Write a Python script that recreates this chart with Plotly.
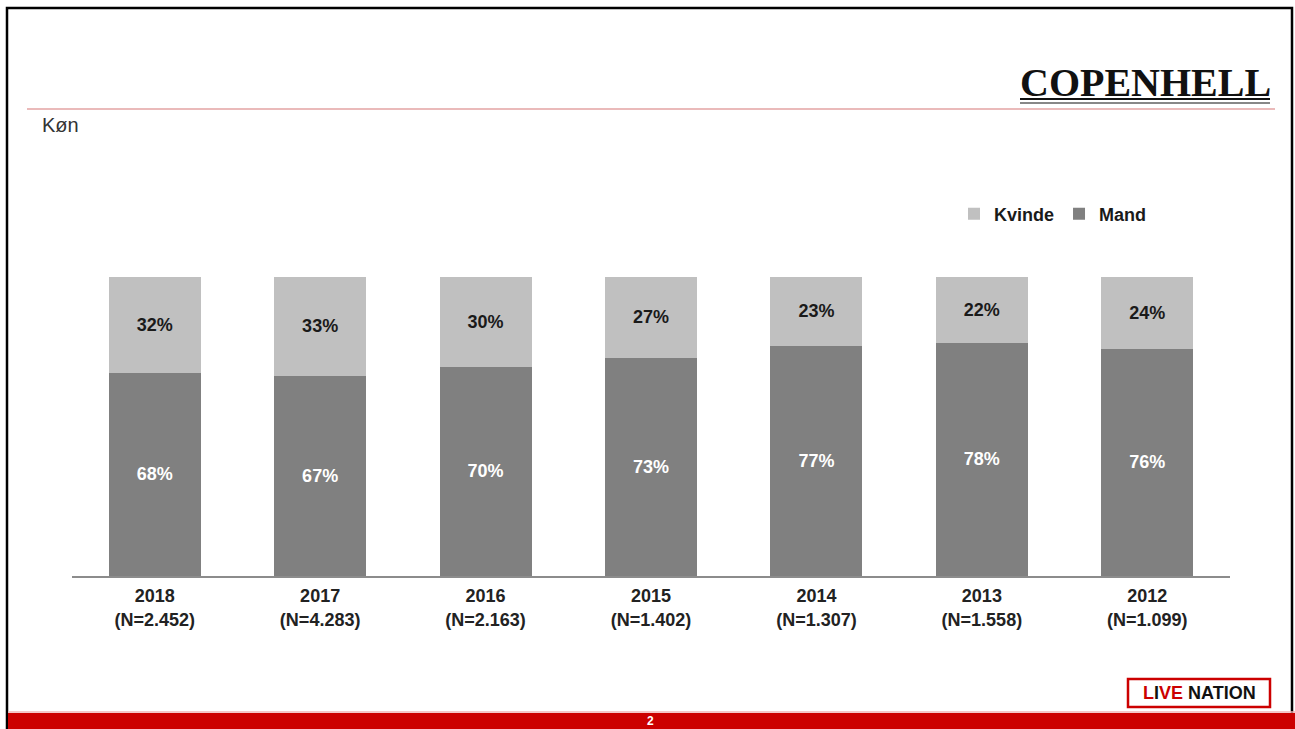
import plotly.graph_objects as go

years = ["2018", "2017", "2016", "2015", "2014", "2013", "2012"]
n_labels = ["N=2.452", "N=4.283", "N=2.163", "N=1.402", "N=1.307", "N=1.558", "N=1.099"]
mand = [68, 67, 70, 73, 77, 78, 76]
kvinde = [32, 33, 30, 27, 23, 22, 24]

categories = [f"{y}<br>({n})" for y, n in zip(years, n_labels)]

W, H = 1295, 729
PL, PR, PT, PB = 72, 1230, 277, 576

def px(x):
    return (x - PL) / (PR - PL)

def py(y):
    return (PB - y) / (PB - PT)

FONT = "Arial, Liberation Sans, sans-serif"

fig = go.Figure()
fig.add_trace(go.Bar(
    name="Mand", x=categories, y=mand,
    marker=dict(color="#808080", line=dict(width=0)),
    text=[f"{v}%" for v in mand], textposition="inside", insidetextanchor="middle",
    textangle=0, textfont=dict(family=FONT, size=18, color="white", weight="bold"),
))
fig.add_trace(go.Bar(
    name="Kvinde", x=categories, y=kvinde,
    marker=dict(color="#c0c0c0", line=dict(width=0)),
    text=[f"{v}%" for v in kvinde], textposition="inside", insidetextanchor="middle",
    textangle=0, textfont=dict(family=FONT, size=18, color="#1a1a1a", weight="bold"),
))

shapes = [
    # slide border
    dict(type="rect", xref="paper", yref="paper", x0=px(7), x1=px(1292), y0=py(740), y1=py(8),
         line=dict(color="black", width=2.5), fillcolor="rgba(0,0,0,0)", layer="above"),
    # header line
    dict(type="line", xref="paper", yref="paper", x0=px(27), x1=px(1275), y0=py(109), y1=py(109),
         line=dict(color="#e3a3a3", width=1.5)),
    # bottom red band
    dict(type="rect", xref="paper", yref="paper", x0=px(8), x1=px(1295), y0=py(735), y1=py(713),
         line=dict(width=0), fillcolor="#cc0000"),
    dict(type="line", xref="paper", yref="paper", x0=px(8), x1=px(1295), y0=py(712), y1=py(712),
         line=dict(color="#f0b5b5", width=1.5)),
    # Copenhell underline
    dict(type="line", xref="paper", yref="paper", x0=px(1020), x1=px(1270), y0=py(99), y1=py(99),
         line=dict(color="#111111", width=2)),
    dict(type="line", xref="paper", yref="paper", x0=px(1020), x1=px(1270), y0=py(103), y1=py(103),
         line=dict(color="#111111", width=1.2)),
    # Live Nation box
    dict(type="rect", xref="paper", yref="paper", x0=px(1128), x1=px(1270), y0=py(707), y1=py(679),
         line=dict(color="#cc0000", width=2.5), fillcolor="white"),
]

annotations = [
    dict(text="Køn", xref="paper", yref="paper", x=px(40), y=py(125), xanchor="left", yanchor="middle",
         showarrow=False, font=dict(family=FONT, size=20, color="#333333")),
    dict(text="COPENHELL", xref="paper", yref="paper", x=px(1145), y=py(82), xanchor="center",
         yanchor="middle", showarrow=False,
         font=dict(family="Liberation Serif, Times New Roman, serif", size=40, color="#111111",
                   weight="bold")),
    dict(text="<span style='color:#cc0000'>L</span>I<span style='color:#cc0000'>VE</span> NATION",
         xref="paper", yref="paper", x=px(1199), y=py(693), xanchor="center", yanchor="middle",
         showarrow=False, font=dict(family=FONT, size=18, color="#111111", weight="bold")),
    dict(text="2", xref="paper", yref="paper", x=px(650), y=py(721), xanchor="center", yanchor="middle",
         showarrow=False, font=dict(family=FONT, size=12, color="white", weight="bold")),
]

fig.update_layout(
    width=W, height=H,
    margin=dict(l=PL, r=W - PR, t=PT, b=H - PB, pad=0),
    paper_bgcolor="white", plot_bgcolor="white",
    barmode="stack", bargap=0.444,
    showlegend=True,
    legend=dict(orientation="h", traceorder="reversed", x=px(954), y=py(214), xanchor="left",
                yanchor="middle", font=dict(family=FONT, size=18, color="#1a1a1a", weight="bold"),
                bgcolor="rgba(0,0,0,0)", itemclick=False),
    xaxis=dict(showgrid=False, showline=True, linecolor="#8c8c8c", linewidth=1.5, ticks="",
               tickfont=dict(family=FONT, size=18, color="#222222", weight="bold"),
               ticklabelstandoff=3, fixedrange=True),
    yaxis=dict(range=[0, 100], visible=False, showgrid=False, fixedrange=True),
    shapes=shapes, annotations=annotations,
    uniformtext=dict(mode=False),
)

fig.write_html("out.html", config=dict(displayModeBar=False),
               post_script="document.body.style.margin='0';document.body.style.overflow='hidden';")
